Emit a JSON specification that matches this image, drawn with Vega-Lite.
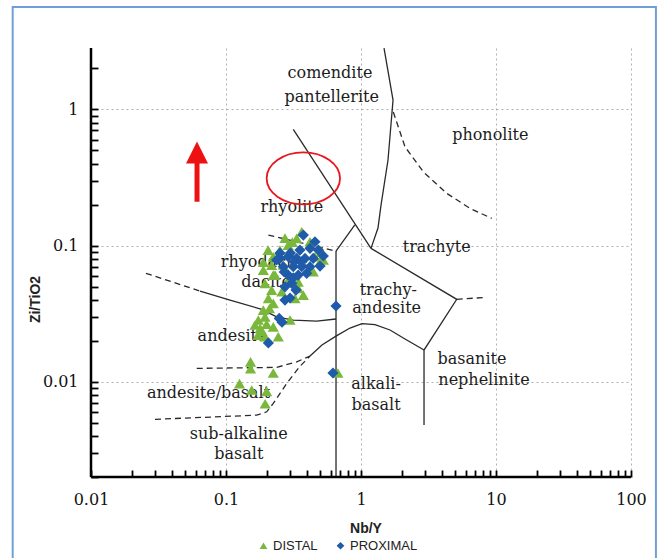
{
  "$schema": "https://vega.github.io/schema/vega-lite/v6.json",
  "width": 540,
  "height": 429,
  "autosize": {"type": "none"},
  "padding": {"left": 91, "top": 48, "right": 31, "bottom": 81},
  "background": "white",
  "config": {"view": {"stroke": null}},
  "datasets": {
    "lines": [
      {"seg": "L1", "style": "solid", "i": 0, "x": 0.315, "y": 0.713},
      {"seg": "L1", "style": "solid", "i": 1, "x": 1.186, "y": 0.0954},
      {"seg": "L2", "style": "solid", "i": 0, "x": 1.481, "y": 2.818},
      {"seg": "L2", "style": "solid", "i": 1, "x": 1.727, "y": 1.17},
      {"seg": "L2", "style": "solid", "i": 2, "x": 1.585, "y": 0.4244},
      {"seg": "L2", "style": "solid", "i": 3, "x": 1.407, "y": 0.1983},
      {"seg": "L2", "style": "solid", "i": 4, "x": 1.336, "y": 0.1344},
      {"seg": "L2", "style": "solid", "i": 5, "x": 1.186, "y": 0.0954},
      {"seg": "L3", "style": "solid", "i": 0, "x": 1.186, "y": 0.0954},
      {"seg": "L3", "style": "solid", "i": 1, "x": 5.12, "y": 0.0403},
      {"seg": "L3", "style": "solid", "i": 2, "x": 2.93, "y": 0.0171},
      {"seg": "L3", "style": "solid", "i": 3, "x": 2.93, "y": 0.00481},
      {"seg": "L6", "style": "solid", "i": 0, "x": 0.419, "y": 0.01544},
      {"seg": "L6", "style": "solid", "i": 1, "x": 0.514, "y": 0.0186},
      {"seg": "L6", "style": "solid", "i": 2, "x": 0.653, "y": 0.02165},
      {"seg": "L6", "style": "solid", "i": 3, "x": 0.829, "y": 0.0248},
      {"seg": "L6", "style": "solid", "i": 4, "x": 1.017, "y": 0.02675},
      {"seg": "L6", "style": "solid", "i": 5, "x": 1.27, "y": 0.0263},
      {"seg": "L6", "style": "solid", "i": 6, "x": 1.64, "y": 0.024},
      {"seg": "L6", "style": "solid", "i": 7, "x": 2.118, "y": 0.0206},
      {"seg": "L6", "style": "solid", "i": 8, "x": 2.93, "y": 0.0171},
      {"seg": "L7", "style": "solid", "i": 0, "x": 0.0642, "y": 0.0463},
      {"seg": "L7", "style": "solid", "i": 1, "x": 0.1071, "y": 0.0398},
      {"seg": "L7", "style": "solid", "i": 2, "x": 0.184, "y": 0.034},
      {"seg": "L7", "style": "solid", "i": 3, "x": 0.237, "y": 0.03},
      {"seg": "L7", "style": "solid", "i": 4, "x": 0.315, "y": 0.0284},
      {"seg": "L7", "style": "solid", "i": 5, "x": 0.47, "y": 0.0279},
      {"seg": "L7", "style": "solid", "i": 6, "x": 0.653, "y": 0.0289},
      {"seg": "L8", "style": "solid", "i": 0, "x": 0.653, "y": 0.0911},
      {"seg": "L8", "style": "solid", "i": 1, "x": 0.653, "y": 0.002},
      {"seg": "L9", "style": "solid", "i": 0, "x": 0.653, "y": 0.0911},
      {"seg": "L9", "style": "solid", "i": 1, "x": 0.9, "y": 0.142},
      {"seg": "D1", "style": "dashed", "i": 0, "x": 0.206, "y": 0.1194},
      {"seg": "D1", "style": "dashed", "i": 1, "x": 0.653, "y": 0.0911},
      {"seg": "D2", "style": "dashed", "i": 0, "x": 1.735, "y": 0.955},
      {"seg": "D2", "style": "dashed", "i": 1, "x": 2.118, "y": 0.531},
      {"seg": "D2", "style": "dashed", "i": 2, "x": 2.893, "y": 0.348},
      {"seg": "D2", "style": "dashed", "i": 3, "x": 4.313, "y": 0.2417},
      {"seg": "D2", "style": "dashed", "i": 4, "x": 6.42, "y": 0.1875},
      {"seg": "D2", "style": "dashed", "i": 5, "x": 9.29, "y": 0.1584},
      {"seg": "D3", "style": "dashed", "i": 0, "x": 5.12, "y": 0.0403},
      {"seg": "D3", "style": "dashed", "i": 1, "x": 8.53, "y": 0.0417},
      {"seg": "D4", "style": "dashed", "i": 0, "x": 0.0607, "y": 0.01254},
      {"seg": "D4", "style": "dashed", "i": 1, "x": 0.237, "y": 0.01276},
      {"seg": "D4", "style": "dashed", "i": 2, "x": 0.334, "y": 0.014},
      {"seg": "D4", "style": "dashed", "i": 3, "x": 0.419, "y": 0.01544},
      {"seg": "D5", "style": "dashed", "i": 0, "x": 0.0298, "y": 0.0053},
      {"seg": "D5", "style": "dashed", "i": 1, "x": 0.1688, "y": 0.00569},
      {"seg": "D5", "style": "dashed", "i": 2, "x": 0.2002, "y": 0.00602},
      {"seg": "D5", "style": "dashed", "i": 3, "x": 0.224, "y": 0.00694},
      {"seg": "D5", "style": "dashed", "i": 4, "x": 0.2816, "y": 0.00973},
      {"seg": "D5", "style": "dashed", "i": 5, "x": 0.353, "y": 0.013},
      {"seg": "D5", "style": "dashed", "i": 6, "x": 0.419, "y": 0.01544},
      {"seg": "D7", "style": "dashed", "i": 0, "x": 0.02555, "y": 0.0625},
      {"seg": "D7", "style": "dashed", "i": 1, "x": 0.0642, "y": 0.0463}
    ],
    "labels": [
      {"label": "comendite", "x": 0.589, "y": 1.838},
      {"label": "pantellerite", "x": 0.607, "y": 1.237},
      {"label": "phonolite", "x": 9.07, "y": 0.653},
      {"label": "rhyolite", "x": 0.307, "y": 0.1908},
      {"label": "trachyte", "x": 3.637, "y": 0.098},
      {"label": "rhyodacite", "x": 0.191, "y": 0.076},
      {"label": "dacite", "x": 0.198, "y": 0.0542},
      {"label": "trachy-", "x": 1.593, "y": 0.0471},
      {"label": "andesite", "x": 1.55, "y": 0.0346},
      {"label": "andesite", "x": 0.1108, "y": 0.02165},
      {"label": "andesite/basalt", "x": 0.0742, "y": 0.00822},
      {"label": "sub-alkaline", "x": 0.1244, "y": 0.00417},
      {"label": "basalt", "x": 0.1244, "y": 0.00296},
      {"label": "alkali-", "x": 1.292, "y": 0.00968},
      {"label": "basalt", "x": 1.292, "y": 0.00679},
      {"label": "basanite", "x": 6.64, "y": 0.01475},
      {"label": "nephelinite", "x": 8.15, "y": 0.01029}
    ],
    "points": [
      {"type": "DISTAL", "x": 0.152, "y": 0.014},
      {"type": "DISTAL", "x": 0.152, "y": 0.0125},
      {"type": "DISTAL", "x": 0.224, "y": 0.0116},
      {"type": "DISTAL", "x": 0.126, "y": 0.0097},
      {"type": "DISTAL", "x": 0.155, "y": 0.0087},
      {"type": "DISTAL", "x": 0.2, "y": 0.0085},
      {"type": "DISTAL", "x": 0.195, "y": 0.0069},
      {"type": "DISTAL", "x": 0.675, "y": 0.0116},
      {"type": "DISTAL", "x": 0.189, "y": 0.0661},
      {"type": "DISTAL", "x": 0.224, "y": 0.0607},
      {"type": "DISTAL", "x": 0.1945, "y": 0.0528},
      {"type": "DISTAL", "x": 0.218, "y": 0.0471},
      {"type": "DISTAL", "x": 0.343, "y": 0.0542},
      {"type": "DISTAL", "x": 0.343, "y": 0.0485},
      {"type": "DISTAL", "x": 0.374, "y": 0.0433},
      {"type": "DISTAL", "x": 0.206, "y": 0.041},
      {"type": "DISTAL", "x": 0.224, "y": 0.0376},
      {"type": "DISTAL", "x": 0.189, "y": 0.0336},
      {"type": "DISTAL", "x": 0.1945, "y": 0.03},
      {"type": "DISTAL", "x": 0.1735, "y": 0.0284},
      {"type": "DISTAL", "x": 0.179, "y": 0.0247},
      {"type": "DISTAL", "x": 0.224, "y": 0.0253},
      {"type": "DISTAL", "x": 0.244, "y": 0.0214},
      {"type": "DISTAL", "x": 0.298, "y": 0.0284},
      {"type": "DISTAL", "x": 0.1945, "y": 0.0214},
      {"type": "DISTAL", "x": 0.1725, "y": 0.022},
      {"type": "DISTAL", "x": 0.164, "y": 0.0261},
      {"type": "DISTAL", "x": 0.185, "y": 0.0235},
      {"type": "DISTAL", "x": 0.2, "y": 0.0265},
      {"type": "DISTAL", "x": 0.21, "y": 0.0345},
      {"type": "DISTAL", "x": 0.364, "y": 0.1263},
      {"type": "DISTAL", "x": 0.334, "y": 0.1129},
      {"type": "DISTAL", "x": 0.289, "y": 0.1008},
      {"type": "DISTAL", "x": 0.251, "y": 0.0927},
      {"type": "DISTAL", "x": 0.224, "y": 0.0828},
      {"type": "DISTAL", "x": 0.218, "y": 0.0719},
      {"type": "DISTAL", "x": 0.231, "y": 0.0607},
      {"type": "DISTAL", "x": 0.443, "y": 0.0642},
      {"type": "DISTAL", "x": 0.497, "y": 0.076},
      {"type": "DISTAL", "x": 0.512, "y": 0.09},
      {"type": "DISTAL", "x": 0.419, "y": 0.1066},
      {"type": "DISTAL", "x": 0.324, "y": 0.041},
      {"type": "DISTAL", "x": 0.259, "y": 0.0458},
      {"type": "DISTAL", "x": 0.289, "y": 0.0558},
      {"type": "DISTAL", "x": 0.526, "y": 0.0783},
      {"type": "DISTAL", "x": 0.456, "y": 0.0828},
      {"type": "DISTAL", "x": 0.189, "y": 0.0756},
      {"type": "DISTAL", "x": 0.205, "y": 0.0927},
      {"type": "DISTAL", "x": 0.2735, "y": 0.1135},
      {"type": "DISTAL", "x": 0.31, "y": 0.106},
      {"type": "DISTAL", "x": 0.265, "y": 0.072},
      {"type": "PROXIMAL", "x": 0.374, "y": 0.1194},
      {"type": "PROXIMAL", "x": 0.456, "y": 0.1066},
      {"type": "PROXIMAL", "x": 0.483, "y": 0.0927},
      {"type": "PROXIMAL", "x": 0.419, "y": 0.0954},
      {"type": "PROXIMAL", "x": 0.251, "y": 0.0805},
      {"type": "PROXIMAL", "x": 0.289, "y": 0.0828},
      {"type": "PROXIMAL", "x": 0.334, "y": 0.0805},
      {"type": "PROXIMAL", "x": 0.385, "y": 0.0805},
      {"type": "PROXIMAL", "x": 0.443, "y": 0.0805},
      {"type": "PROXIMAL", "x": 0.266, "y": 0.0699},
      {"type": "PROXIMAL", "x": 0.315, "y": 0.0699},
      {"type": "PROXIMAL", "x": 0.364, "y": 0.0699},
      {"type": "PROXIMAL", "x": 0.419, "y": 0.0699},
      {"type": "PROXIMAL", "x": 0.289, "y": 0.0607},
      {"type": "PROXIMAL", "x": 0.343, "y": 0.0607},
      {"type": "PROXIMAL", "x": 0.396, "y": 0.0625},
      {"type": "PROXIMAL", "x": 0.307, "y": 0.0528},
      {"type": "PROXIMAL", "x": 0.2735, "y": 0.0498},
      {"type": "PROXIMAL", "x": 0.251, "y": 0.0881},
      {"type": "PROXIMAL", "x": 0.237, "y": 0.0783},
      {"type": "PROXIMAL", "x": 0.526, "y": 0.0838},
      {"type": "PROXIMAL", "x": 0.353, "y": 0.0927},
      {"type": "PROXIMAL", "x": 0.497, "y": 0.0707},
      {"type": "PROXIMAL", "x": 0.3, "y": 0.088},
      {"type": "PROXIMAL", "x": 0.32, "y": 0.076},
      {"type": "PROXIMAL", "x": 0.36, "y": 0.076},
      {"type": "PROXIMAL", "x": 0.27, "y": 0.064},
      {"type": "PROXIMAL", "x": 0.315, "y": 0.058},
      {"type": "PROXIMAL", "x": 0.33, "y": 0.0471},
      {"type": "PROXIMAL", "x": 0.298, "y": 0.0412},
      {"type": "PROXIMAL", "x": 0.2735, "y": 0.0398},
      {"type": "PROXIMAL", "x": 0.248, "y": 0.0292},
      {"type": "PROXIMAL", "x": 0.26, "y": 0.0274},
      {"type": "PROXIMAL", "x": 0.206, "y": 0.0193},
      {"type": "PROXIMAL", "x": 0.653, "y": 0.036},
      {"type": "PROXIMAL", "x": 0.62, "y": 0.0116}
    ],
    "ellipse": [{"x": 0.374, "y": 0.3114}],
    "arrow": [{"x": 0.061, "y": 0.2097, "y2": 0.42, "tip": 0.4818}]
  },
  "layer": [
    {
      "data": {"name": "lines"},
      "transform": [{"filter": "datum.style === 'solid'"}],
      "mark": {"type": "line", "color": "#2a2a2a", "strokeWidth": 1.3},
      "encoding": {
        "x": {
          "field": "x", "type": "quantitative",
          "scale": {"type": "log", "domain": [0.01, 100], "nice": false},
          "axis": {
            "title": "Nb/Y",
            "values": [0.01, 0.02, 0.03, 0.04, 0.05, 0.06, 0.07, 0.08, 0.09, 0.1, 0.2, 0.3, 0.4, 0.5, 0.6, 0.7, 0.8, 0.9, 1, 2, 3, 4, 5, 6, 7, 8, 9, 10, 20, 30, 40, 50, 60, 70, 80, 90, 100],
            "labelExpr": "indexof([0.01,0.1,1,10,100], datum.value) >= 0 ? toString(datum.value) : ''",
            "labelOverlap": false,
            "labelFlush": false,
            "labelFont": "DejaVu Serif",
            "labelFontSize": 16,
            "labelColor": "#111111",
            "labelPadding": 14,
            "offset": -7,
            "domain": false,
            "ticks": true,
            "tickSize": 7,
            "tickColor": "#000000",
            "tickWidth": 1.8,
            "tickOpacity": 1,
            "grid": true,
            "gridColor": "#b0b0b0",
            "gridDash": [2, 3],
            "gridWidth": 1,
            "gridOpacity": {"condition": {"test": "indexof([0.1,1,10,100], datum.value) >= 0", "value": 1}, "value": 0},
            "titleFont": "Liberation Sans",
            "titleFontWeight": "bold",
            "titleFontSize": 14,
            "titleColor": "#222222",
            "titleX": 274.5,
            "titleY": 58,
            "titleBaseline": "middle",
            "titleAlign": "center"
          }
        },
        "y": {
          "field": "y", "type": "quantitative",
          "scale": {"type": "log", "domain": [0.002, 2.82], "nice": false},
          "axis": {
            "title": "Zi/TiO2",
            "values": [0.002, 0.003, 0.004, 0.005, 0.006, 0.007, 0.008, 0.009, 0.01, 0.02, 0.03, 0.04, 0.05, 0.06, 0.07, 0.08, 0.09, 0.1, 0.2, 0.3, 0.4, 0.5, 0.6, 0.7, 0.8, 0.9, 1, 2],
            "labelExpr": "indexof([0.01,0.1,1], datum.value) >= 0 ? toString(datum.value) : ''",
            "labelOverlap": false,
            "labelFlush": false,
            "labelFont": "DejaVu Serif",
            "labelFontSize": 16,
            "labelColor": "#111111",
            "labelPadding": 13,
            "offset": -7,
            "domain": false,
            "ticks": true,
            "tickSize": 7,
            "tickColor": "#000000",
            "tickWidth": 1.8,
            "tickOpacity": 1,
            "grid": true,
            "gridColor": "#b0b0b0",
            "gridDash": [2, 3],
            "gridWidth": 1,
            "gridOpacity": {"condition": {"test": "indexof([0.01,0.1,1], datum.value) >= 0", "value": 1}, "value": 0},
            "titleFont": "Liberation Sans",
            "titleFontWeight": "bold",
            "titleFontSize": 14,
            "titleColor": "#222222",
            "titleAngle": 270,
            "titleX": -63,
            "titleY": 251,
            "titleBaseline": "middle",
            "titleAlign": "center"
          }
        },
        "detail": {"field": "seg"},
        "order": {"field": "i", "type": "quantitative"}
      }
    },
    {
      "data": {"name": "lines"},
      "transform": [{"filter": "datum.style === 'dashed'"}],
      "mark": {"type": "line", "color": "#2a2a2a", "strokeWidth": 1.3, "strokeDash": [6, 4]},
      "encoding": {
        "x": {"field": "x", "type": "quantitative"},
        "y": {"field": "y", "type": "quantitative"},
        "detail": {"field": "seg"},
        "order": {"field": "i", "type": "quantitative"}
      }
    },
    {
      "data": {"values": [{}]},
      "mark": {"type": "rule", "color": "#000000", "strokeWidth": 2.5},
      "encoding": {
        "y": {"datum": 0.002, "type": "quantitative"}
      }
    },
    {
      "data": {"values": [{}]},
      "mark": {"type": "rule", "color": "#000000", "strokeWidth": 2.5},
      "encoding": {
        "x": {"datum": 0.01, "type": "quantitative"}
      }
    },
    {
      "data": {"name": "labels"},
      "mark": {"type": "text", "font": "DejaVu Serif", "fontSize": 16, "color": "#1c1c1c", "align": "center", "baseline": "middle"},
      "encoding": {
        "x": {"field": "x", "type": "quantitative"},
        "y": {"field": "y", "type": "quantitative"},
        "text": {"field": "label"}
      }
    },
    {
      "data": {"name": "points"},
      "mark": {"type": "point", "filled": true, "size": 125, "opacity": 1},
      "encoding": {
        "x": {"field": "x", "type": "quantitative"},
        "y": {"field": "y", "type": "quantitative"},
        "color": {
          "field": "type", "type": "nominal",
          "scale": {"domain": ["DISTAL", "PROXIMAL"], "range": ["#7ab83c", "#1f5ba8"]},
          "legend": {"title": null, "orient": "none", "legendX": 166, "legendY": 491, "direction": "horizontal", "labelFont": "Liberation Sans", "labelFontSize": 13, "labelColor": "#222222", "symbolSize": 60, "columnPadding": 16, "labelOffset": 3}
        },
        "shape": {
          "field": "type", "type": "nominal",
          "scale": {"domain": ["DISTAL", "PROXIMAL"], "range": ["triangle-up", "diamond"]},
          "legend": {"title": null, "orient": "none", "legendX": 166, "legendY": 491, "direction": "horizontal", "labelFont": "Liberation Sans", "labelFontSize": 13, "labelColor": "#222222", "symbolSize": 60, "columnPadding": 16, "labelOffset": 3}
        }
      }
    },
    {
      "data": {"name": "ellipse"},
      "mark": {"type": "point", "filled": false, "shape": "M-1,0C-1,-0.392,-0.552,-0.709,0,-0.709C0.552,-0.709,1,-0.392,1,0C1,0.392,0.552,0.709,0,0.709C-0.552,0.709,-1,0.392,-1,0Z", "size": 5388, "stroke": "#e8161e", "strokeWidth": 1.8, "opacity": 1},
      "encoding": {
        "x": {"field": "x", "type": "quantitative"},
        "y": {"field": "y", "type": "quantitative"}
      }
    },
    {
      "data": {"name": "arrow"},
      "mark": {"type": "rule", "color": "#ee1111", "strokeWidth": 5},
      "encoding": {
        "x": {"field": "x", "type": "quantitative"},
        "y": {"field": "y", "type": "quantitative"},
        "y2": {"field": "y2"}
      }
    },
    {
      "data": {"name": "arrow"},
      "mark": {"type": "point", "filled": true, "shape": "M0,-1L1,1L-1,1Z", "size": 484, "color": "#ee1111", "opacity": 1},
      "encoding": {
        "x": {"field": "x", "type": "quantitative"},
        "y": {"field": "tip", "type": "quantitative"}
      }
    },
    {
      "data": {"values": [{}]},
      "mark": {"type": "rect", "filled": false, "stroke": "#6f9fd8", "strokeWidth": 2},
      "encoding": {
        "x": {"datum": 0.00263, "type": "quantitative"},
        "x2": {"datum": 153},
        "y": {"datum": 5.64, "type": "quantitative"},
        "y2": {"datum": 0.000414}
      }
    }
  ]
}
